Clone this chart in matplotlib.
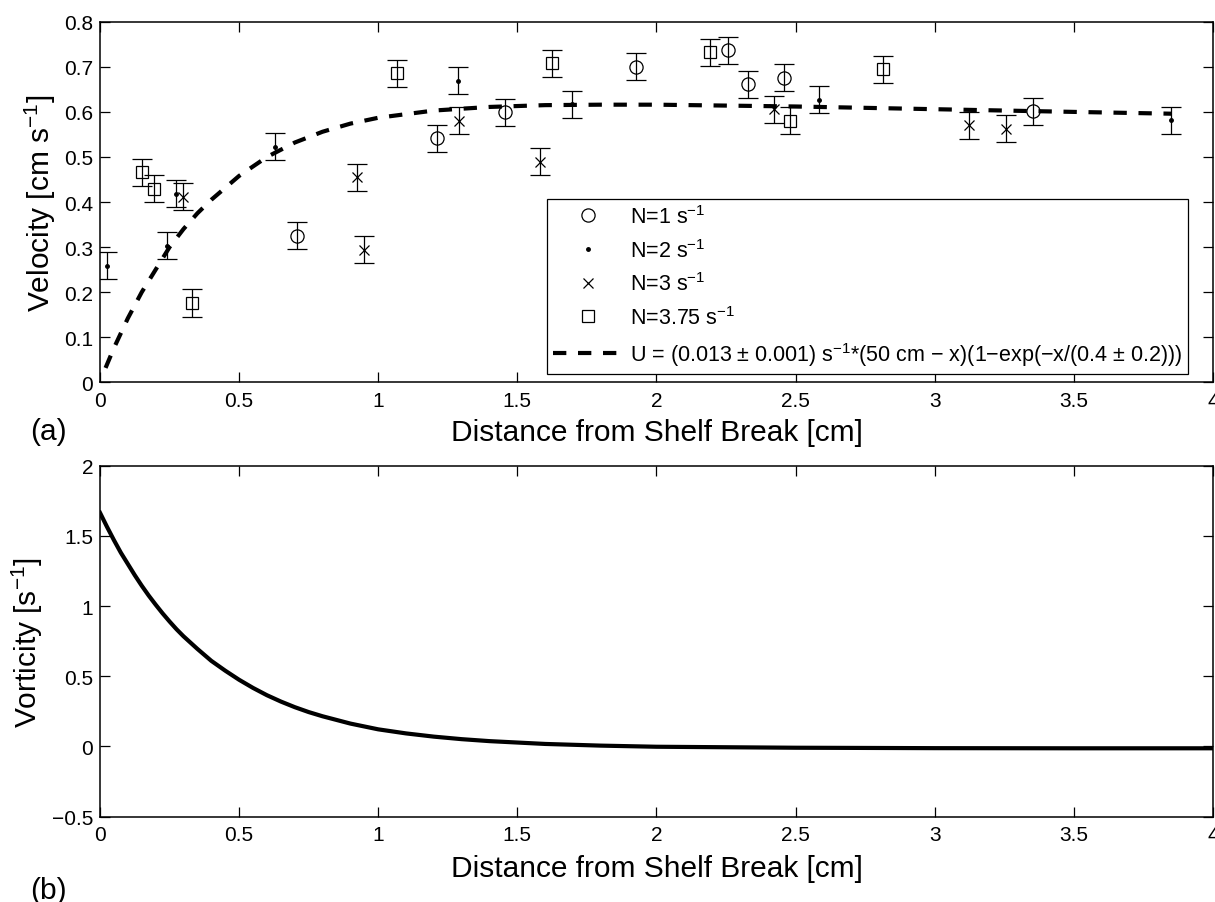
import matplotlib
matplotlib.use('Agg')
import matplotlib.pyplot as plt
from matplotlib.ticker import FuncFormatter

plt.rcParams['font.family'] = ['Liberation Sans', 'DejaVu Sans']
plt.rcParams['mathtext.fontset'] = 'custom'
plt.rcParams['mathtext.rm'] = 'Liberation Sans'
plt.rcParams['mathtext.it'] = 'Liberation Sans:italic'
plt.rcParams['mathtext.default'] = 'regular'

# measured velocities, one group per stratification N
x_n1 = [0.709, 1.212, 1.456, 1.928, 2.258, 2.330, 2.458, 3.354]
u_n1 = [0.325, 0.542, 0.599, 0.700, 0.737, 0.661, 0.676, 0.601]
e_n1 = [0.03, 0.03, 0.03, 0.03, 0.03, 0.03, 0.03, 0.03]

x_n2 = [0.025, 0.240, 0.273, 0.630, 1.288, 1.696, 2.585, 3.851]
u_n2 = [0.259, 0.303, 0.418, 0.523, 0.669, 0.617, 0.627, 0.581]
e_n2 = [0.03, 0.03, 0.03, 0.03, 0.03, 0.03, 0.03, 0.03]

x_n3 = [0.297, 0.922, 0.950, 1.290, 1.583, 2.423, 3.124, 3.255]
u_n3 = [0.412, 0.455, 0.294, 0.580, 0.489, 0.606, 0.570, 0.563]
e_n3 = [0.03, 0.03, 0.03, 0.03, 0.03, 0.03, 0.03, 0.03]

x_n375 = [0.150, 0.195, 0.330, 1.066, 1.625, 2.194, 2.479, 2.815]
u_n375 = [0.466, 0.430, 0.176, 0.686, 0.708, 0.732, 0.580, 0.695]
e_n375 = [0.03, 0.03, 0.03, 0.03, 0.03, 0.03, 0.03, 0.03]

# fitted profile
x_fit = [0.02, 0.05, 0.1, 0.15, 0.2, 0.25, 0.3, 0.35, 0.4, 0.5, 0.6, 0.7, 0.8,
         0.9, 1.0, 1.2, 1.4, 1.6, 1.8, 2.0, 2.5, 3.0, 3.5, 3.85]
u_fit = [0.032, 0.076, 0.142, 0.200, 0.250, 0.300, 0.340, 0.375, 0.405, 0.458,
         0.500, 0.532, 0.556, 0.574, 0.587, 0.603, 0.611, 0.615, 0.616, 0.616,
         0.612, 0.606, 0.600, 0.596]

# vorticity of the fit
x_vort = [0.0, 0.025, 0.05, 0.075, 0.1, 0.125, 0.15, 0.175, 0.2, 0.225, 0.25,
          0.275, 0.3, 0.35, 0.4, 0.45, 0.5, 0.55, 0.6, 0.65, 0.7, 0.75, 0.8,
          0.9, 1.0, 1.1, 1.2, 1.3, 1.4, 1.6, 1.8, 2.0, 2.5, 3.0, 3.5, 4.0]
w_vort = [1.665, 1.565, 1.47, 1.38, 1.30, 1.22, 1.145, 1.075, 1.01, 0.948, 0.89,
          0.835, 0.785, 0.695, 0.61, 0.54, 0.475, 0.417, 0.365, 0.32, 0.28,
          0.245, 0.215, 0.163, 0.122, 0.093, 0.07, 0.052, 0.038, 0.018, 0.006,
          -0.002, -0.009, -0.012, -0.013, -0.013]

lbl_fit = ('U = (0.013 \u00b1 0.001) s$^{-1}$*(50 cm \u2212 x)'
           '(1\u2212exp(\u2212x/(0.4 \u00b1 0.2)))')

fmt = FuncFormatter(lambda v, p: f'{v:g}'.replace('-', '\u2212'))

fig = plt.figure(figsize=(12.15, 9.03), dpi=100)
ax1 = fig.add_axes([0.0823, 0.5755, 0.916, 0.3993])
ax2 = fig.add_axes([0.0823, 0.0945, 0.916, 0.3887])

eb = dict(fmt='none', ecolor='black', elinewidth=0.9, capsize=7.5, capthick=0.9)
ax1.errorbar(x_n1, u_n1, yerr=e_n1, **eb)
ax1.errorbar(x_n2, u_n2, yerr=e_n2, **eb)
ax1.errorbar(x_n3, u_n3, yerr=e_n3, **eb)
ax1.errorbar(x_n375, u_n375, yerr=e_n375, **eb)

ax1.plot(x_n1, u_n1, 'o', ms=9.5, mfc='none', mec='black', mew=0.9, ls='none',
         label='N=1 s$^{-1}$')
ax1.plot(x_n2, u_n2, '.', ms=5, color='black', ls='none', label='N=2 s$^{-1}$')
ax1.plot(x_n3, u_n3, 'x', ms=7, color='black', mew=0.9, ls='none',
         label='N=3 s$^{-1}$')
ax1.plot(x_n375, u_n375, 's', ms=8, mfc='none', mec='black', mew=0.9, ls='none',
         label='N=3.75 s$^{-1}$')
ax1.plot(x_fit, u_fit, color='black', lw=3, ls=(0, (3.2, 2.8)), label=lbl_fit)

leg = ax1.legend(loc='lower right', bbox_to_anchor=(0.978, 0.023),
                 borderaxespad=0, fontsize=15.5, fancybox=False,
                 edgecolor='black', framealpha=1, handlelength=3.2,
                 handletextpad=0.35, borderpad=0.3, labelspacing=0.5,
                 numpoints=1)
leg.get_frame().set_linewidth(0.9)

ax1.set_xlim(0, 4)
ax1.set_ylim(0, 0.8)
ax1.set_xticks([0, 0.5, 1, 1.5, 2, 2.5, 3, 3.5, 4])
ax1.set_yticks([0, 0.1, 0.2, 0.3, 0.4, 0.5, 0.6, 0.7, 0.8])
ax1.set_xlabel('Distance from Shelf Break [cm]', fontsize=21.5)
ax1.set_ylabel('Velocity [cm s$^{-1}$]', fontsize=21.5)
ax1.xaxis.set_label_coords(0.5, -0.1)
ax1.yaxis.set_label_coords(-0.038, 0.5)

ax2.plot(x_vort, w_vort, color='black', lw=3)
ax2.set_xlim(0, 4)
ax2.set_ylim(-0.5, 2)
ax2.set_xticks([0, 0.5, 1, 1.5, 2, 2.5, 3, 3.5, 4])
ax2.set_yticks([-0.5, 0, 0.5, 1, 1.5, 2])
ax2.set_xlabel('Distance from Shelf Break [cm]', fontsize=21.5)
ax2.set_ylabel('Vorticity [s$^{-1}$]', fontsize=21.5)
ax2.xaxis.set_label_coords(0.5, -0.105)
ax2.yaxis.set_label_coords(-0.049, 0.5)

for ax in (ax1, ax2):
    ax.xaxis.set_major_formatter(fmt)
    ax.yaxis.set_major_formatter(fmt)
    ax.tick_params(direction='in', top=True, right=True, length=7.5, width=0.9,
                   labelsize=15)
    ax.tick_params(axis='x', pad=6)
    ax.tick_params(axis='y', pad=5)
    for s in ax.spines.values():
        s.set_linewidth(1.1)

fig.text(0.040, 0.5216, '(a)', fontsize=21.5, ha='center', va='center')
fig.text(0.040, 0.0133, '(b)', fontsize=21.5, ha='center', va='center')

fig.savefig('out.png', dpi=100)
